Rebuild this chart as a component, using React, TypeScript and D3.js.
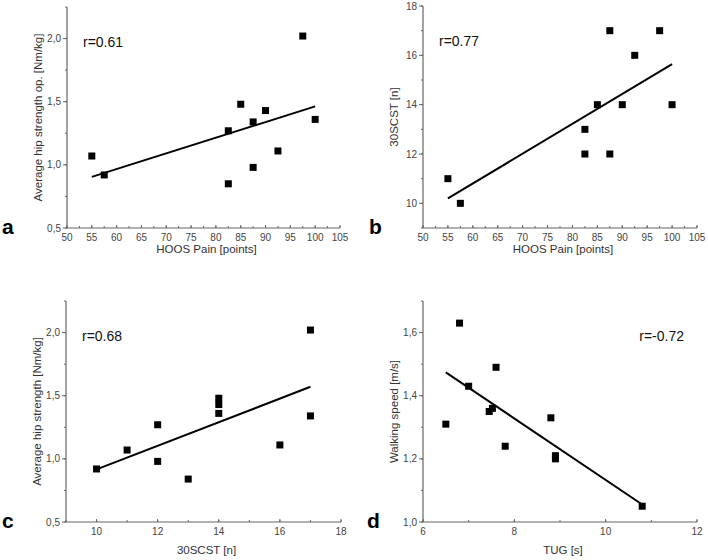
import { useRef, useEffect } from "react";
import * as d3 from "d3";

// panel a: HOOS pain vs hip strength
const hoosA = [55, 57.5, 82.5, 82.5, 85, 87.5, 87.5, 90, 92.5, 97.5, 100];
const hipA = [1.07, 0.92, 1.27, 0.85, 1.48, 1.34, 0.98, 1.43, 1.11, 2.02, 1.36];

// panel b: HOOS pain vs 30SCST
const hoosB = [55, 57.5, 82.5, 82.5, 85, 87.5, 87.5, 90, 92.5, 97.5, 100];
const scstB = [11, 10, 13, 12, 14, 17, 12, 14, 16, 17, 14];

// panel c: 30SCST vs hip strength
const scstC = [10, 11, 12, 12, 13, 14, 14, 14, 16, 17, 17];
const hipC = [0.92, 1.07, 1.27, 0.98, 0.84, 1.48, 1.43, 1.36, 1.11, 2.02, 1.34];

// panel d: TUG vs walking speed
const tugD = [6.5, 6.8, 7.0, 7.45, 7.52, 7.6, 7.8, 8.8, 8.9, 8.9, 10.8];
const speedD = [1.31, 1.63, 1.43, 1.35, 1.36, 1.49, 1.24, 1.33, 1.21, 1.2, 1.05];

const W = 708;
const H = 560;
const tickFont = "'Liberation Sans Narrow', 'Liberation Sans', Arial, sans-serif";
const font = "'Liberation Sans', Arial, sans-serif";

const comma = (f) => (v) => d3.format(f)(v).replace(".", ",");

const panels = [
  {
    letter: "a", lx: 2, xs: hoosA, ys: hipA, r: "r=0.61", rRight: false,
    x0: 67, x1: 340, y0: 7, y1: 228, titleOff: 25,
    xDom: [50, 105], yDom: [0.5, 2.25],
    xMajor: d3.range(50, 106, 5), xMinor: d3.range(50, 106, 2.5),
    yMajor: [0.5, 1.0, 1.5, 2.0], yMinor: d3.range(0.5, 2.26, 0.25),
    xFmt: d3.format("d"), yFmt: comma(".1f"),
    xTitle: "HOOS Pain [points]", yTitle: "Average hip strength op. [Nm/kg]",
  },
  {
    letter: "b", lx: 369, xs: hoosB, ys: scstB, r: "r=0.77", rRight: false,
    x0: 423, x1: 697, y0: 6, y1: 228, titleOff: 25,
    xDom: [50, 105], yDom: [9, 18],
    xMajor: d3.range(50, 106, 5), xMinor: d3.range(50, 106, 2.5),
    yMajor: [10, 12, 14, 16, 18], yMinor: d3.range(9, 18.1, 1),
    xFmt: d3.format("d"), yFmt: d3.format("d"),
    xTitle: "HOOS Pain [points]", yTitle: "30SCST [n]",
  },
  {
    letter: "c", lx: 2, xs: scstC, ys: hipC, r: "r=0.68", rRight: false,
    x0: 66, x1: 341, y0: 301, y1: 522, titleOff: 32,
    xDom: [9, 18], yDom: [0.5, 2.25],
    xMajor: [10, 12, 14, 16, 18], xMinor: d3.range(9, 18.1, 1),
    yMajor: [0.5, 1.0, 1.5, 2.0], yMinor: d3.range(0.5, 2.26, 0.25),
    xFmt: d3.format("d"), yFmt: comma(".1f"),
    xTitle: "30SCST [n]", yTitle: "Average hip strength [Nm/kg]",
  },
  {
    letter: "d", lx: 367, xs: tugD, ys: speedD, r: "r=-0.72", rRight: true,
    x0: 423, x1: 697, y0: 301, y1: 522, titleOff: 32,
    xDom: [6, 12], yDom: [1.0, 1.7],
    xMajor: [6, 8, 10, 12], xMinor: d3.range(6, 12.1, 1),
    yMajor: [1.0, 1.2, 1.4, 1.6], yMinor: d3.range(1.0, 1.71, 0.1),
    xFmt: d3.format("d"), yFmt: comma(".1f"),
    xTitle: "TUG [s]", yTitle: "Walking speed [m/s]",
  },
];

function fit(xs, ys) {
  const mx = d3.mean(xs);
  const my = d3.mean(ys);
  const sxy = d3.sum(xs, (x, i) => (x - mx) * (ys[i] - my));
  const sxx = d3.sum(xs, (x) => (x - mx) * (x - mx));
  const b = sxy / sxx;
  return { a: my - b * mx, b };
}

const App = () => {
  const svgRef = useRef(null);

  useEffect(() => {
    const svg = d3.select(svgRef.current);
    svg.selectAll("*").remove();

    panels.forEach((p) => {
      const x = d3.scaleLinear().domain(p.xDom).range([p.x0, p.x1]);
      const y = d3.scaleLinear().domain(p.yDom).range([p.y1, p.y0]);
      const g = svg.append("g");

      // x axis, ticks pointing up
      g.append("line")
        .attr("x1", p.x0).attr("x2", p.x1)
        .attr("y1", p.y1).attr("y2", p.y1)
        .attr("stroke", "#666").attr("stroke-width", 1.2);
      g.selectAll(".xmin").data(p.xMinor).join("line")
        .attr("x1", (d) => x(d)).attr("x2", (d) => x(d))
        .attr("y1", p.y1).attr("y2", p.y1 - 2)
        .attr("stroke", "#666");
      g.selectAll(".xmaj").data(p.xMajor).join("line")
        .attr("x1", (d) => x(d)).attr("x2", (d) => x(d))
        .attr("y1", p.y1).attr("y2", p.y1 - 3)
        .attr("stroke", "#666");
      g.selectAll(".xlab").data(p.xMajor).join("text")
        .attr("x", (d) => x(d)).attr("y", p.y1 + 13)
        .attr("text-anchor", "middle")
        .attr("font-family", tickFont).attr("font-size", 10).attr("fill", "#444")
        .text((d) => p.xFmt(d));

      // y axis, ticks pointing left
      g.append("line")
        .attr("x1", p.x0).attr("x2", p.x0)
        .attr("y1", p.y0).attr("y2", p.y1)
        .attr("stroke", "#666").attr("stroke-width", 1.2);
      g.selectAll(".ymin").data(p.yMinor).join("line")
        .attr("x1", p.x0).attr("x2", p.x0 - 2)
        .attr("y1", (d) => y(d)).attr("y2", (d) => y(d))
        .attr("stroke", "#666");
      g.selectAll(".ymaj").data(p.yMajor).join("line")
        .attr("x1", p.x0).attr("x2", p.x0 - 4)
        .attr("y1", (d) => y(d)).attr("y2", (d) => y(d))
        .attr("stroke", "#666");
      g.selectAll(".ylab").data(p.yMajor).join("text")
        .attr("x", p.x0 - 6).attr("y", (d) => y(d) + 3.5)
        .attr("text-anchor", "end")
        .attr("font-family", tickFont).attr("font-size", 10).attr("fill", "#444")
        .text((d) => p.yFmt(d));

      // titles
      g.append("text")
        .attr("x", (p.x0 + p.x1) / 2 + 3).attr("y", p.y1 + p.titleOff)
        .attr("text-anchor", "middle")
        .attr("font-family", font).attr("font-size", 11.5).attr("fill", "#333")
        .text(p.xTitle);
      g.append("text")
        .attr("transform", `translate(${p.x0 - 25},${(p.y0 + p.y1) / 2}) rotate(-90)`)
        .attr("text-anchor", "middle")
        .attr("font-family", font).attr("font-size", 11.5).attr("fill", "#333")
        .text(p.yTitle);

      // regression line
      const { a, b } = fit(p.xs, p.ys);
      const [lo, hi] = d3.extent(p.xs);
      g.append("line")
        .attr("x1", x(lo)).attr("y1", y(a + b * lo))
        .attr("x2", x(hi)).attr("y2", y(a + b * hi))
        .attr("stroke", "#000").attr("stroke-width", 2);

      // points
      g.selectAll(".pt").data(p.xs).join("rect")
        .attr("x", (d) => x(d) - 3.5)
        .attr("y", (d, i) => y(p.ys[i]) - 3.5)
        .attr("width", 7).attr("height", 7)
        .attr("fill", "#000");

      // r value
      g.append("text")
        .attr("x", p.rRight ? p.x1 - 13 : p.x0 + 16)
        .attr("y", p.y0 + 40)
        .attr("text-anchor", p.rRight ? "end" : "start")
        .attr("font-family", font).attr("font-size", 14).attr("fill", "#111")
        .text(p.r);

      // panel letter
      g.append("text")
        .attr("x", p.lx)
        .attr("y", p.y1 + 6)
        .attr("font-family", font).attr("font-size", 21).attr("font-weight", "bold")
        .attr("fill", "#000")
        .text(p.letter);
    });
  }, []);

  return (
    <div style={{ position: "absolute", left: 0, top: 0 }}>
      <svg ref={svgRef} width={W} height={H} style={{ display: "block" }} />
    </div>
  );
};

export default App;
